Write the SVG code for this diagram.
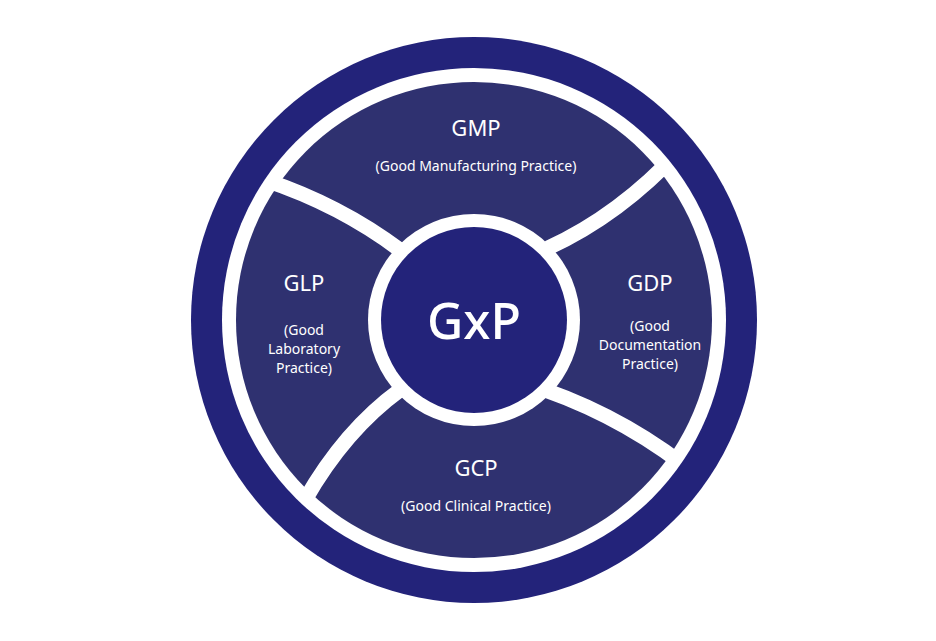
<svg xmlns="http://www.w3.org/2000/svg" width="936" height="641" viewBox="0 0 936 641">
<defs><clipPath id="c"><circle cx="474" cy="320" r="244"/></clipPath></defs>
<style>
.t{font-family:"Noto Sans","Open Sans",sans-serif;fill:#fff;text-anchor:middle}
.h{font-size:22px}
.s{font-size:14px}
.div{fill:none;stroke:#fff;stroke-width:15;stroke-linecap:butt}
</style>
<rect width="936" height="641" fill="#fff"/>
<g id="outer"><circle cx="474" cy="320" r="283" fill="#23237a"/><circle cx="474" cy="320" r="252" fill="#fff"/><circle cx="474" cy="320" r="238" fill="#2f3170"/></g>
<g id="connectors" clip-path="url(#c)">
<path class="div" d="M265 180 Q340 205 400 250"/>
<path class="div" d="M680 150 Q620 215 548 248"/>
<path class="div" d="M545 390 Q630 420 700 478"/>
<path class="div" d="M400 390 Q345 430 305 500"/>
</g>
<g id="center"><circle cx="474" cy="320" r="106" fill="#fff"/><circle cx="474" cy="320" r="93" fill="#23237a"/><text class="t" x="474" y="339" font-size="50" font-weight="500">GxP</text></g>
<g id="gmp"><text class="t h" x="476" y="136">GMP</text><text class="t s" x="476" y="171">(Good Manufacturing Practice)</text></g>
<g id="glp"><text class="t h" x="304" y="291">GLP</text><text class="t s" x="304" y="335">(Good</text><text class="t s" x="304" y="354">Laboratory</text><text class="t s" x="304" y="373">Practice)</text></g>
<g id="gdp"><text class="t h" x="650" y="291">GDP</text><text class="t s" x="650" y="331">(Good</text><text class="t s" x="650" y="350">Documentation</text><text class="t s" x="650" y="369">Practice)</text></g>
<g id="gcp"><text class="t h" x="476" y="476">GCP</text><text class="t s" x="476" y="511">(Good Clinical Practice)</text></g>
</svg>
